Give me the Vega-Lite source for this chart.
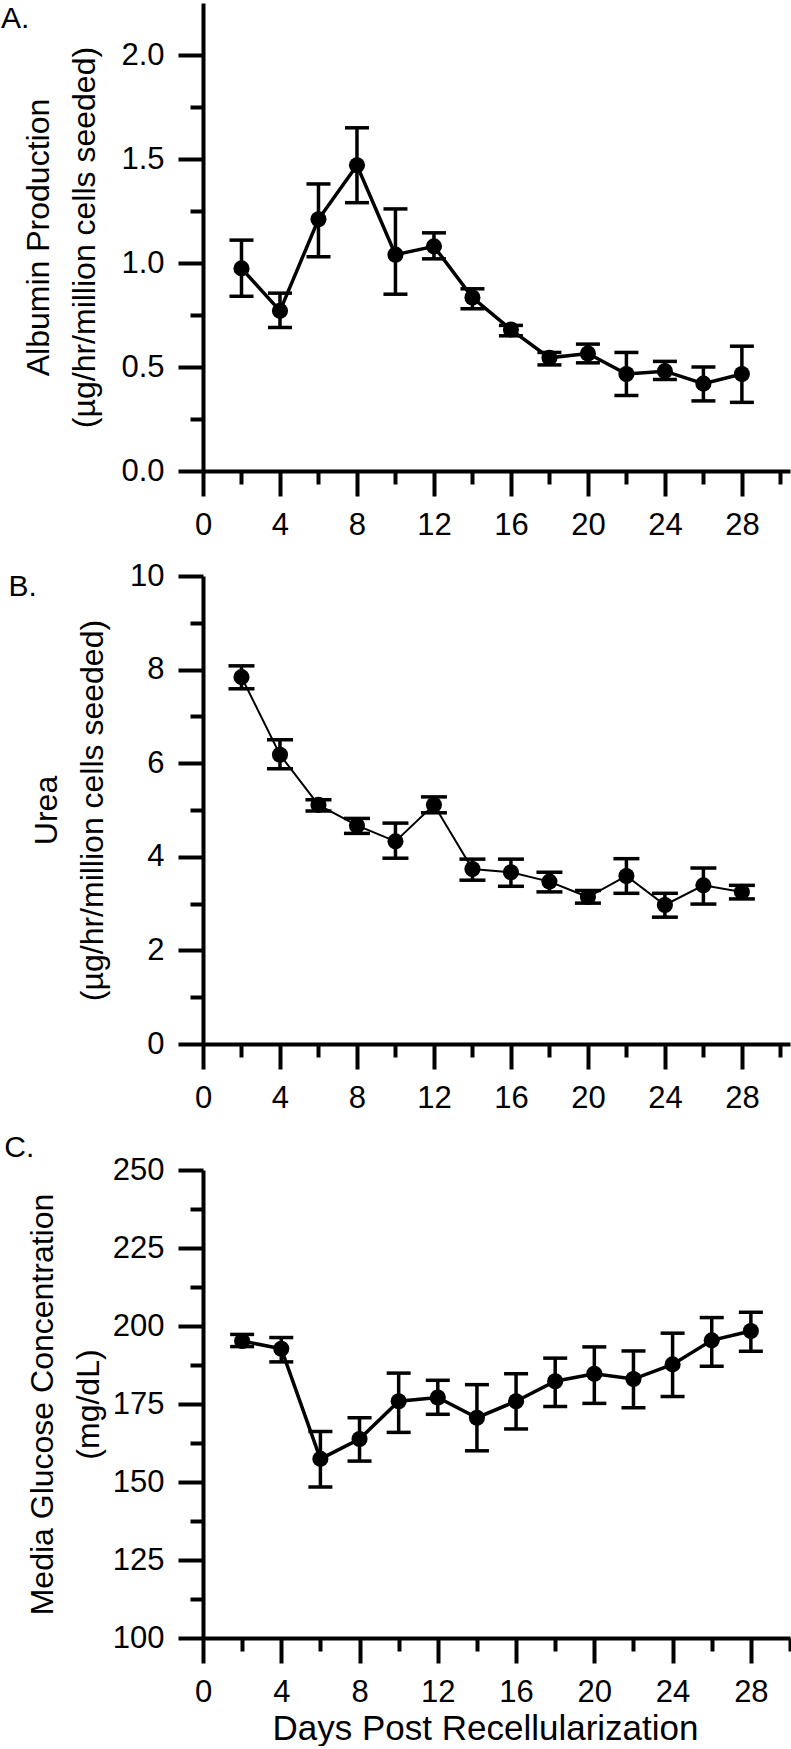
{
  "$schema": "https://vega.github.io/schema/vega-lite/v6.json",
  "background": "white",
  "padding": {"left": 0, "top": 3, "right": 4, "bottom": 0},
  "spacing": 20,
  "datasets": {
    "albumin": [
      {"day": 2, "mean": 0.974, "lo": 0.84, "hi": 1.11},
      {"day": 4, "mean": 0.77, "lo": 0.69, "hi": 0.855},
      {"day": 6, "mean": 1.21, "lo": 1.03, "hi": 1.38},
      {"day": 8, "mean": 1.47, "lo": 1.29, "hi": 1.65},
      {"day": 10, "mean": 1.04, "lo": 0.85, "hi": 1.26},
      {"day": 12, "mean": 1.08, "lo": 1.02, "hi": 1.145},
      {"day": 14, "mean": 0.834, "lo": 0.78, "hi": 0.876},
      {"day": 16, "mean": 0.68, "lo": 0.65, "hi": 0.70},
      {"day": 18, "mean": 0.544, "lo": 0.51, "hi": 0.57},
      {"day": 20, "mean": 0.565, "lo": 0.52, "hi": 0.61},
      {"day": 22, "mean": 0.466, "lo": 0.363, "hi": 0.57},
      {"day": 24, "mean": 0.48, "lo": 0.44, "hi": 0.527},
      {"day": 26, "mean": 0.42, "lo": 0.337, "hi": 0.50},
      {"day": 28, "mean": 0.466, "lo": 0.33, "hi": 0.60}
    ],
    "urea": [
      {"day": 2, "mean": 7.84, "lo": 7.59, "hi": 8.08},
      {"day": 4, "mean": 6.18, "lo": 5.88, "hi": 6.50},
      {"day": 6, "mean": 5.11, "lo": 4.98, "hi": 5.22},
      {"day": 8, "mean": 4.67, "lo": 4.50, "hi": 4.82},
      {"day": 10, "mean": 4.33, "lo": 3.97, "hi": 4.72},
      {"day": 12, "mean": 5.11, "lo": 4.94, "hi": 5.28},
      {"day": 14, "mean": 3.74, "lo": 3.50, "hi": 3.95},
      {"day": 16, "mean": 3.67, "lo": 3.37, "hi": 3.95},
      {"day": 18, "mean": 3.47, "lo": 3.25, "hi": 3.67},
      {"day": 20, "mean": 3.14, "lo": 3.01, "hi": 3.28},
      {"day": 22, "mean": 3.59, "lo": 3.22, "hi": 3.96},
      {"day": 24, "mean": 2.97, "lo": 2.71, "hi": 3.22},
      {"day": 26, "mean": 3.39, "lo": 2.99, "hi": 3.76},
      {"day": 28, "mean": 3.25, "lo": 3.10, "hi": 3.39}
    ],
    "glucose": [
      {"day": 2, "mean": 195.2, "lo": 193.4, "hi": 197.3},
      {"day": 4, "mean": 192.7, "lo": 188.5, "hi": 196.3},
      {"day": 6, "mean": 157.4, "lo": 148.4, "hi": 166.2},
      {"day": 8, "mean": 163.8, "lo": 156.7, "hi": 170.6},
      {"day": 10, "mean": 175.9, "lo": 165.9, "hi": 184.9},
      {"day": 12, "mean": 177.1, "lo": 171.7, "hi": 182.6},
      {"day": 14, "mean": 170.6, "lo": 160.0, "hi": 181.2},
      {"day": 16, "mean": 175.9, "lo": 167.0, "hi": 184.7},
      {"day": 18, "mean": 182.3, "lo": 174.2, "hi": 189.7},
      {"day": 20, "mean": 184.7, "lo": 175.2, "hi": 193.3},
      {"day": 22, "mean": 183.0, "lo": 173.8, "hi": 192.0},
      {"day": 24, "mean": 187.7, "lo": 177.4, "hi": 197.7},
      {"day": 26, "mean": 195.4, "lo": 187.1, "hi": 202.7},
      {"day": 28, "mean": 198.4, "lo": 191.9, "hi": 204.4}
    ]
  },
  "vconcat": [
    {
      "width": 587, "height": 468,
      "title": {"text": "A.", "anchor": "start", "frame": "bounds", "fontSize": 30, "fontWeight": "normal", "baseline": "top", "offset": -31, "dx": -22},
      "data": {"name": "albumin"},
      "layer": [
        {"mark": {"type": "rule", "color": "black", "strokeWidth": 3.5},
         "encoding": {
           "x": {"field": "day", "type": "quantitative", "scale": {"domain": [0, 30.5], "nice": false, "zero": false},
                 "axis": {"orient": "bottom", "values": [0, 4, 8, 12, 16, 20, 24, 28], "tickSize": 25, "labelPadding": 14, "title": null}},
           "y": {"field": "lo", "type": "quantitative", "scale": {"domain": [0, 2.25], "nice": false},
                 "axis": {"orient": "left", "values": [0, 0.5, 1, 1.5, 2], "format": ".1f", "tickSize": 25, "labelPadding": 14, "titlePadding": 19, "title": ["Albumin Production", "(µg/hr/million cells seeded)"]}},
           "y2": {"field": "hi"}
         }},
        {"mark": {"type": "tick", "orient": "horizontal", "size": 24, "thickness": 3.5, "color": "black", "opacity": 1},
         "encoding": {"x": {"field": "day", "type": "quantitative", "axis": null}, "y": {"field": "lo", "type": "quantitative", "axis": null}}},
        {"mark": {"type": "tick", "orient": "horizontal", "size": 24, "thickness": 3.5, "color": "black", "opacity": 1},
         "encoding": {"x": {"field": "day", "type": "quantitative", "axis": null}, "y": {"field": "hi", "type": "quantitative", "axis": null}}},
        {"mark": {"type": "line", "color": "black", "strokeWidth": 3.5},
         "encoding": {
           "x": {"field": "day", "type": "quantitative", "axis": {"orient": "bottom", "values": [2, 6, 10, 14, 18, 22, 26, 30], "tickSize": 13, "labels": false, "domain": false, "title": null}},
           "y": {"field": "mean", "type": "quantitative", "axis": {"orient": "left", "values": [0.25, 0.75, 1.25, 1.75], "tickSize": 13, "labels": false, "domain": false, "title": null}}
         }},
        {"mark": {"type": "circle", "color": "black", "opacity": 1, "size": 260},
         "encoding": {"x": {"field": "day", "type": "quantitative", "axis": null}, "y": {"field": "mean", "type": "quantitative", "axis": null}}}
      ],
      "resolve": {"axis": {"x": "independent", "y": "independent"}}
    },
    {
      "width": 587, "height": 468,
      "title": {"text": "B.", "anchor": "start", "frame": "bounds", "fontSize": 30, "fontWeight": "normal", "baseline": "top", "offset": -42, "dx": -22},
      "data": {"name": "urea"},
      "layer": [
        {"mark": {"type": "rule", "color": "black", "strokeWidth": 3.5},
         "encoding": {
           "x": {"field": "day", "type": "quantitative", "scale": {"domain": [0, 30.5], "nice": false, "zero": false},
                 "axis": {"orient": "bottom", "values": [0, 4, 8, 12, 16, 20, 24, 28], "tickSize": 25, "labelPadding": 14, "title": null}},
           "y": {"field": "lo", "type": "quantitative", "scale": {"domain": [0, 10], "nice": false},
                 "axis": {"orient": "left", "values": [0, 2, 4, 6, 8, 10], "tickSize": 25, "labelPadding": 14, "titlePadding": 20, "title": ["Urea", "(µg/hr/million cells seeded)"]}},
           "y2": {"field": "hi"}
         }},
        {"mark": {"type": "tick", "orient": "horizontal", "size": 26, "thickness": 3.5, "color": "black", "opacity": 1},
         "encoding": {"x": {"field": "day", "type": "quantitative", "axis": null}, "y": {"field": "lo", "type": "quantitative", "axis": null}}},
        {"mark": {"type": "tick", "orient": "horizontal", "size": 26, "thickness": 3.5, "color": "black", "opacity": 1},
         "encoding": {"x": {"field": "day", "type": "quantitative", "axis": null}, "y": {"field": "hi", "type": "quantitative", "axis": null}}},
        {"mark": {"type": "line", "color": "black", "strokeWidth": 2},
         "encoding": {
           "x": {"field": "day", "type": "quantitative", "axis": {"orient": "bottom", "values": [2, 6, 10, 14, 18, 22, 26, 30], "tickSize": 13, "labels": false, "domain": false, "title": null}},
           "y": {"field": "mean", "type": "quantitative", "axis": {"orient": "left", "values": [1, 3, 5, 7, 9], "tickSize": 13, "labels": false, "domain": false, "title": null}}
         }},
        {"mark": {"type": "circle", "color": "black", "opacity": 1, "size": 260},
         "encoding": {"x": {"field": "day", "type": "quantitative", "axis": null}, "y": {"field": "mean", "type": "quantitative", "axis": null}}}
      ],
      "resolve": {"axis": {"x": "independent", "y": "independent"}}
    },
    {
      "width": 587, "height": 468,
      "title": {"text": "C.", "anchor": "start", "frame": "bounds", "fontSize": 30, "fontWeight": "normal", "baseline": "top", "offset": -9, "dx": -22},
      "data": {"name": "glucose"},
      "layer": [
        {"mark": {"type": "rule", "color": "black", "strokeWidth": 3.5},
         "encoding": {
           "x": {"field": "day", "type": "quantitative", "scale": {"domain": [0, 30], "nice": false, "zero": false},
                 "axis": {"orient": "bottom", "values": [0, 4, 8, 12, 16, 20, 24, 28], "tickSize": 25, "labelPadding": 14, "title": "Days Post Recellularization", "titleFontSize": 35, "titlePadding": 4, "titleX": 282}},
           "y": {"field": "lo", "type": "quantitative", "scale": {"domain": [100, 250], "nice": false, "zero": false},
                 "axis": {"orient": "left", "values": [100, 125, 150, 175, 200, 225, 250], "tickSize": 25, "labelPadding": 14, "titlePadding": 7, "title": ["Media Glucose Concentration", "(mg/dL)"]}},
           "y2": {"field": "hi"}
         }},
        {"mark": {"type": "tick", "orient": "horizontal", "size": 24, "thickness": 3.5, "color": "black", "opacity": 1},
         "encoding": {"x": {"field": "day", "type": "quantitative", "axis": null}, "y": {"field": "lo", "type": "quantitative", "axis": null}}},
        {"mark": {"type": "tick", "orient": "horizontal", "size": 24, "thickness": 3.5, "color": "black", "opacity": 1},
         "encoding": {"x": {"field": "day", "type": "quantitative", "axis": null}, "y": {"field": "hi", "type": "quantitative", "axis": null}}},
        {"mark": {"type": "line", "color": "black", "strokeWidth": 3.5},
         "encoding": {
           "x": {"field": "day", "type": "quantitative", "axis": {"orient": "bottom", "values": [2, 6, 10, 14, 18, 22, 26, 30], "tickSize": 13, "labels": false, "domain": false, "title": null}},
           "y": {"field": "mean", "type": "quantitative", "axis": {"orient": "left", "values": [112.5, 137.5, 162.5, 187.5, 212.5, 237.5], "tickSize": 13, "labels": false, "domain": false, "title": null}}
         }},
        {"mark": {"type": "circle", "color": "black", "opacity": 1, "size": 260},
         "encoding": {"x": {"field": "day", "type": "quantitative", "axis": null}, "y": {"field": "mean", "type": "quantitative", "axis": null}}}
      ],
      "resolve": {"axis": {"x": "independent", "y": "independent"}}
    }
  ],
  "config": {
    "font": "Liberation Sans",
    "view": {"stroke": null},
    "axis": {
      "grid": false,
      "domainColor": "black", "domainWidth": 4,
      "tickColor": "black", "tickWidth": 4,
      "labelColor": "black", "labelFontSize": 31, "labelFont": "Liberation Sans",
      "labelOverlap": false, "labelFlush": false, "labelBound": false,
      "titleColor": "black", "titleFontSize": 32, "titleFont": "Liberation Sans", "titleFontWeight": "normal", "titleLineHeight": 46
    },
    "title": {"color": "black", "font": "Liberation Sans"}
  }
}
